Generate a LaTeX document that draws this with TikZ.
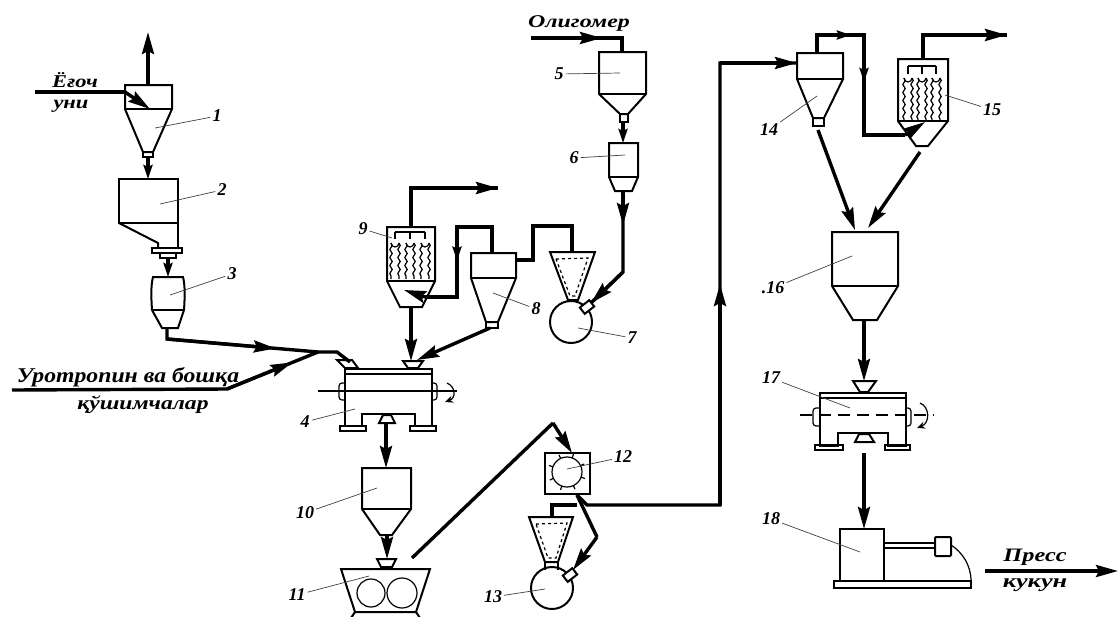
\documentclass[tikz,border=0pt]{standalone}
\usepackage{fontspec}
\setmainfont{Liberation Serif}
\usetikzlibrary{arrows.meta,calc,decorations.pathmorphing}
\tikzset{
  unit/.style={draw=black,line width=2pt,line join=miter},
  thin unit/.style={draw=black,line width=1.2pt},
  flow/.style={draw=black,line width=3.4pt,line join=miter},
  tip/.style={-{Stealth[length=22pt,width=12pt,inset=3pt]}},
  small tip/.style={-{Stealth[length=14pt,width=9pt,inset=2pt]}},
  leader/.style={draw=black!75,line width=.7pt},
  num/.style={font=\bfseries\itshape\fontsize{18}{18}\selectfont,inner sep=2pt},
  lab/.style={font=\bfseries\itshape\fontsize{18}{18}\selectfont,inner sep=0pt,transform shape},
  bag/.style={draw=black,line width=1.2pt,decorate,decoration={snake,amplitude=1.2pt,segment length=8pt}},
}
\newcommand\bags[4]{% x list, ybar, ytop, ybottom
  \foreach \s in {#1}{
    \draw[bag] ({\s-4},#3+3)--({\s-4},#4);
    \draw[bag] ({\s+4},#3+3)--({\s+4},#4);
    \draw[thin unit] ({\s-4},#3+3) arc[start angle=180,end angle=0,radius=4];
    \draw[thin unit] (\s,#2)--(\s,#3-1);
  }
}
\begin{document}
\begin{tikzpicture}[x=1pt,y=-1pt]
\useasboundingbox (0,0) rectangle (1118,616);
% ---------- named points
\coordinate (upA) at (148,32); \coordinate (u1t) at (148,85);
\coordinate (inA) at (35,92); \coordinate (inB) at (125,92); \coordinate (inC) at (150,109);
\coordinate (u1b) at (148,157); \coordinate (u2t) at (148,179);
\coordinate (u2b) at (168,258); \coordinate (u3t) at (168,277);
\coordinate (u3b) at (167,328); \coordinate (j1) at (167,339); \coordinate (j2) at (318,352);
\coordinate (j3) at (337,352); \coordinate (h4a) at (350,362);
\coordinate (add1) at (12,390); \coordinate (add2) at (227,389);
\coordinate (u4b) at (386,424); \coordinate (u10t) at (386,468);
\coordinate (u10b) at (387,535); \coordinate (h11) at (387,559);
\coordinate (m1) at (412,558); \coordinate (m2) at (553,423); \coordinate (u12t) at (572,453);
\coordinate (u12b) at (577,495); \coordinate (e1) at (587,505); \coordinate (e2) at (720,505);
\coordinate (e3) at (720,63); \coordinate (u14l) at (797,63);
\coordinate (b1) at (577,505); \coordinate (b2) at (552,505); \coordinate (u13t) at (552,517);
\coordinate (r1) at (597,537); \coordinate (u13l) at (573,570);
\coordinate (olA) at (531,38); \coordinate (olB) at (622,38); \coordinate (u5t) at (622,52);
\coordinate (u5b) at (623,122); \coordinate (u6t) at (623,143);
\coordinate (u6b) at (623,191); \coordinate (s1) at (623,272); \coordinate (u7l) at (591,303);
\coordinate (u7t) at (572,252); \coordinate (s2) at (572,226); \coordinate (s3) at (533,226);
\coordinate (s4) at (533,260); \coordinate (u8r) at (516,260);
\coordinate (u8t) at (492,253); \coordinate (t1) at (492,227); \coordinate (t2) at (457,227);
\coordinate (t3) at (457,297); \coordinate (t4) at (425,297); \coordinate (u9i) at (404,290);
\coordinate (u9t) at (411,227); \coordinate (f1) at (411,188); \coordinate (f2) at (498,188);
\coordinate (u9b) at (411,307); \coordinate (h4b) at (411,361);
\coordinate (u8b) at (490,328); \coordinate (h4c) at (417,360);
\coordinate (u14t) at (817,53); \coordinate (k1) at (817,35); \coordinate (k2) at (864,35);
\coordinate (k3) at (864,135); \coordinate (k4) at (905,135); \coordinate (u15i) at (925,122);
\coordinate (u15t) at (923,59); \coordinate (x1) at (923,35); \coordinate (x2) at (1007,35);
\coordinate (u14b) at (818,130); \coordinate (u16a) at (855,230);
\coordinate (u15b) at (920,152); \coordinate (u16c) at (868,228);
\coordinate (u16b) at (864,321); \coordinate (h17) at (864,381);
\coordinate (u17b) at (864,453); \coordinate (u18t) at (864,529);
\coordinate (pA) at (985,571); \coordinate (pB) at (1118,571);

% ---------- apparatus 1, 2, 3
\draw[unit] (125,85)--(172,85)--(172,109)--(153,152)--(143,152)--(125,109)--cycle;
\draw[unit] (125,109)--(172,109);
\draw[unit] (143,152) rectangle (153,157);
\draw[unit] (119,179) rectangle (178,223);
\draw[unit] (119,223)--(158,243)--(158,248);
\draw[unit] (178,223)--(178,248);
\draw[unit] (152,248) rectangle (182,253);
\draw[unit] (160,253) rectangle (176,258);
\draw[unit] (152,310) .. controls (151,295) and (151,285) .. (153,277)--(183,277) .. controls (185,285) and (185,295) .. (184,310)--(178,328)--(162,328)--cycle;
\draw[unit] (152,310)--(184,310);
% ---------- mixer 4
\draw[unit] (345,369)--(432,369)--(432,426)--(415,426)--(415,414)--(362,414)--(362,426)--(345,426)--cycle;
\draw[unit] (345,374)--(432,374);
\draw[thin unit] (318,391)--(457,391);
\draw[unit] (340,426) rectangle (366,431);
\draw[unit] (410,426) rectangle (436,431);
\draw[thin unit,rounded corners=3pt] (345,383)--(339,383)--(339,400)--(345,400);
\draw[thin unit,rounded corners=3pt] (432,383)--(437,383)--(437,400)--(432,400);
\draw[unit,fill=white] (383,415)--(391,415)--(395,423)--(379,423)--cycle;
\draw[unit] (337,360)--(352,360)--(358,368)--(345,368)--cycle;
\draw[unit] (403,361)--(423,361)--(418,368)--(408,368)--cycle;
\draw[thin unit,-{Stealth[length=8pt,width=7pt]}] (447,383) .. controls (456,387) and (456,398) .. (445,402);
% ---------- 10, 11
\draw[unit] (362,468)--(411,468)--(411,509)--(392,535)--(380,535)--(362,509)--cycle;
\draw[unit] (362,509)--(411,509);
\draw[unit] (377,559)--(396,559)--(392,567)--(381,567)--cycle;
\draw[unit] (341,569)--(430,569)--(416,612)--(355,612)--cycle;
\draw[thin unit] (371,593) circle[radius=14];
\draw[thin unit] (402,593) circle[radius=15];
\draw[unit] (355,612)--(351,618); \draw[unit] (416,612)--(420,618);
% ---------- 12, 13
\draw[unit] (545,453) rectangle (590,494);
\draw[thin unit] (567,472) circle[radius=15];
\foreach \a in {20,65,110,155,200,245,290,335}
  \draw[thin unit] (567,472)++(\a:15)--++(\a:4);
\draw[unit] (529,517)--(573,517)--(558,562)--(545,562)--cycle;
\draw[thin unit,dashed] (536,524)--(567,523)--(556,558)--(548,558)--cycle;
\draw[unit] (552,588) circle[radius=21];
\draw[unit] (545,562)--(545,570); \draw[unit] (558,562)--(558,570);
\draw[unit,fill=white,rotate around={38:(570,575)}] (564,571) rectangle (576,579);
% ---------- 5, 6, 7
\draw[unit] (599,52)--(646,52)--(646,94)--(628,114)--(620,114)--(599,94)--cycle;
\draw[unit] (599,94)--(646,94);
\draw[unit] (620,114) rectangle (628,122);
\draw[unit] (609,143)--(638,143)--(638,177)--(632,191)--(615,191)--(609,177)--cycle;
\draw[unit] (609,177)--(638,177);
\draw[unit] (550,252)--(595,252)--(578,300)--(568,300)--cycle;
\draw[thin unit,dashed] (556,259)--(588,258)--(575,296)--(570,296)--cycle;
\draw[unit] (571,322) circle[radius=21];
\draw[unit,fill=white,rotate around={38:(587,307)}] (581,303) rectangle (593,311);
% ---------- 8, 9
\draw[unit] (471,253)--(516,253)--(516,278)--(498,322)--(486,322)--(471,278)--cycle;
\draw[unit] (471,278)--(516,278);
\draw[unit] (486,322) rectangle (498,328);
\draw[unit] (387,227)--(435,227)--(435,281)--(422,307)--(400,307)--(387,281)--cycle;
\draw[unit] (387,281)--(435,281);
\draw[thin unit] (395,232)--(425,232);
\bags{395,410,425}{232}{240}{279}
% ---------- 14, 15, 16
\draw[unit] (797,53)--(843,53)--(843,79)--(824,118)--(813,118)--(797,79)--cycle;
\draw[unit] (797,79)--(843,79);
\draw[unit] (813,118) rectangle (824,126);
\draw[unit] (898,59)--(948,59)--(948,121)--(928,146)--(916,146)--(898,121)--cycle;
\draw[unit] (898,121)--(948,121);
\draw[thin unit] (908,66)--(936,66);
\bags{908,922,936}{66}{75}{120}
\draw[unit] (832,232)--(898,232)--(898,286)--(877,320)--(853,320)--(832,286)--cycle;
\draw[unit] (832,286)--(898,286);
% ---------- mixer 17
\draw[unit] (820,393)--(906,393)--(906,446)--(888,446)--(888,433)--(838,433)--(838,446)--(820,446)--cycle;
\draw[unit] (820,398)--(906,398);
\draw[thin unit,dash pattern=on 12pt off 7pt] (800,415)--(934,415);
\draw[unit] (815,445) rectangle (843,450);
\draw[unit] (885,445) rectangle (910,450);
\draw[thin unit,rounded corners=3pt] (820,408)--(813,408)--(813,426)--(820,426);
\draw[thin unit,rounded corners=3pt] (906,408)--(911,408)--(911,426)--(906,426);
\draw[unit,fill=white] (859,434)--(869,434)--(874,442)--(855,442)--cycle;
\draw[unit,fill=white] (853,381)--(876,381)--(868,392)--(860,392)--cycle;
\draw[thin unit,-{Stealth[length=8pt,width=7pt]}] (920,403) .. controls (930,407) and (930,423) .. (917,428);
% ---------- press 18
\draw[unit] (840,529) rectangle (884,581);
\draw[unit] (834,581) rectangle (971,588);
\draw[unit] (884,543) rectangle (935,548);
\draw[unit,rounded corners=1pt] (935,537) rectangle (951,556);
\draw[thin unit] (951,545) .. controls (962,552) and (971,565) .. (971,581);

% ---------- flows
\draw[flow,tip] (u1t)--(upA);
\draw[flow] (inA)--(inB);
\draw[flow,tip] (inB)--(inC);
\draw[flow,small tip] (u1b)--(u2t);
\draw[flow,small tip] (u2b)--(u3t);
\draw[flow] (u3b)--(j1)--(j2)--(j3)--(h4a);
\draw[flow,tip] (j1)--($(j1)!.72!(j2)$);
\draw[flow] (add1)--(add2)--(j2);
\draw[flow,tip] (add2)--($(add2)!.72!(j2)$);
\draw[flow,tip] (u4b)--(u10t);
\draw[flow,tip] (u10b)--(h11);
\draw[flow] (m1)--(m2);
\draw[flow,tip] (m2)--(u12t);
\draw[flow] (u12b)--(e1)--(e2)--(e3)--(u14l);
\draw[flow,tip] (e2)--($(e2)!.50!(e3)$);
\draw[flow,tip] (e3)--(u14l);
\draw[flow] (b1)--(b2)--(u13t);
\draw[flow] (u12b)--(r1);
\draw[flow,tip] (r1)--(u13l);
\draw[flow] (olA)--(olB)--(u5t);
\draw[flow,tip] (olA)--($(olA)!.78!(olB)$);
\draw[flow,small tip] (u5b)--(u6t);
\draw[flow] (u6b)--(s1)--(u7l);
\draw[flow,tip] (u6b)--($(u6b)!.42!(s1)$);
\draw[flow,tip] (s1)--(u7l);
\draw[flow] (u7t)--(s2)--(s3)--(s4)--(u8r);
\draw[flow] (u8t)--(t1)--(t2)--(t3)--(t4);
\draw[flow,small tip] (t2)--($(t2)!.48!(t3)$);
\draw[flow,tip] (t4)--(u9i);
\draw[flow] (u9t)--(f1)--(f2);
\draw[flow,tip] (f1)--(f2);
\draw[flow,tip] (u9b)--(h4b);
\draw[flow,tip] (u8b)--(h4c);
\draw[flow] (u14t)--(k1)--(k2)--(k3)--(k4);
\draw[flow,small tip] (k1)--($(k1)!.72!(k2)$);
\draw[flow,small tip] (k2)--($(k2)!.47!(k3)$);
\draw[flow,tip] (k4)--(u15i);
\draw[flow] (u15t)--(x1)--(x2);
\draw[flow,tip] (x1)--(x2);
\draw[flow,tip] (u14b)--(u16a);
\draw[flow,tip] (u15b)--(u16c);
\draw[flow,tip] (u16b)--(h17);
\draw[flow,tip] (u17b)--(u18t);
\draw[flow,tip] (pA)--(pB);

% ---------- texts
\node[lab,xscale=1.25] (tA) at (75,80) {Ёғоч};
\node[lab,xscale=1.25] (tB) at (71,106) {уни};
\node[lab,xscale=1.33] (tC) at (579,23) {Олигомер};
\node[lab,xscale=1.13,font=\bfseries\itshape\fontsize{21}{21}\selectfont] (tD) at (128,377) {Уротропин ва бошқа};
\node[lab,xscale=1.24,font=\bfseries\itshape\fontsize{19}{19}\selectfont] (tE) at (143,405) {қўшимчалар};
\node[lab,xscale=1.28,font=\bfseries\itshape\fontsize{19}{19}\selectfont] (tF) at (1035,557) {Пресс};
\node[lab,xscale=1.38,font=\bfseries\itshape\fontsize{19}{19}\selectfont] (tG) at (1035,585) {кукун};
% ---------- numbers with leaders
\node[num] (n1) at (217,116) {1}; \draw[leader] (n1)--(155,128);
\node[num] (n2) at (222,190) {2}; \draw[leader] (n2)--(160,204);
\node[num] (n3) at (232,274) {3}; \draw[leader] (n3)--(170,295);
\node[num] (n4) at (305,422) {4}; \draw[leader] (n4)--(355,409);
\node[num] (n5) at (559,74) {5}; \draw[leader] (n5)--(620,73);
\node[num] (n6) at (574,158) {6}; \draw[leader] (n6)--(625,155);
\node[num] (n7) at (632,338) {7}; \draw[leader] (n7)--(578,328);
\node[num] (n8) at (536,309) {8}; \draw[leader] (n8)--(493,293);
\node[num] (n9) at (363,229) {9}; \draw[leader] (n9)--(392,238);
\node[num] (n10) at (305,513) {10}; \draw[leader] (n10)--(377,488);
\node[num] (n11) at (297,595) {11}; \draw[leader] (n11)--(369,576);
\node[num] (n12) at (623,457) {12}; \draw[leader] (n12)--(567,469);
\node[num] (n13) at (493,597) {13}; \draw[leader] (n13)--(545,589);
\node[num] (n14) at (769,130) {14}; \draw[leader] (n14)--(817,96);
\node[num] (n15) at (992,110) {15}; \draw[leader] (n15)--(945,95);
\node[num] (n16) at (773,288) {.16}; \draw[leader] (n16)--(852,256);
\node[num] (n17) at (771,378) {17}; \draw[leader] (n17)--(850,408);
\node[num] (n18) at (771,519) {18}; \draw[leader] (n18)--(860,552);
\end{tikzpicture}
\end{document}
